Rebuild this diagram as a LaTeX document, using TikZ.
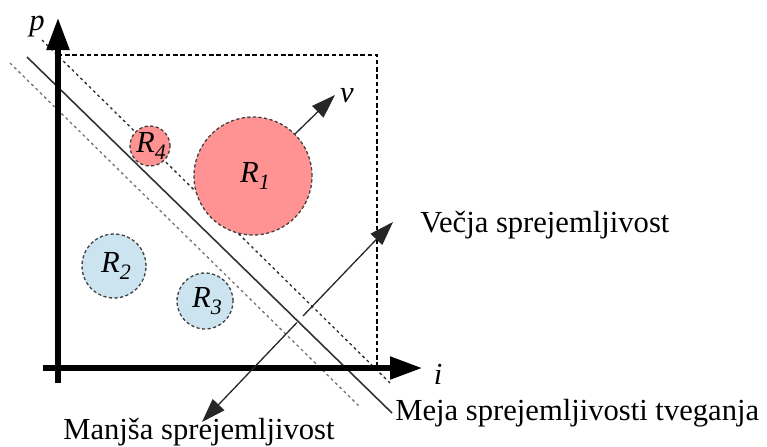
\documentclass[tikz,border=0pt]{standalone}
\usepackage{fontspec}
\setmainfont{Liberation Serif}
\usetikzlibrary{arrows.meta}
\definecolor{pinkfill}{HTML}{FF9393}
\definecolor{bluefill}{HTML}{CCE4F0}
\newcommand\reglabel[2]{\textit{#1}\raisebox{-0.45ex}{\fontsize{11}{12}\selectfont\textit{#2}}}
\begin{document}
\begin{tikzpicture}[x=0.5pt,y=-0.5pt,
  axis/.style={line width=2.6pt,-{Triangle[length=16pt,width=11pt]}},
  region/.style={circle,draw=black!75,dash pattern=on 1.6pt off 1.2pt,line width=0.65pt,inner sep=0pt},
  lbl/.style={font=\fontsize{15.3}{18}\selectfont,inner sep=0pt},
  frame/.style={black,line width=0.6pt,dash pattern=on 2.2pt off 1.4pt},
  bound/.style={black!80,line width=0.8pt},
  upper/.style={black!85,line width=0.65pt,dash pattern=on 1.4pt off 1.6pt},
  lower/.style={black!55,line width=0.65pt,dash pattern=on 1.4pt off 1.6pt},
  thinarrow/.style={black!85,line width=0.65pt,-{Triangle[length=12pt,width=8pt]}}]
\useasboundingbox (0,0) rectangle (767,446);

% coordinates
\coordinate (pbot) at (58,383);
\coordinate (ptop) at (58,18);
\coordinate (ileft) at (43,368);
\coordinate (iright) at (422,368);
\coordinate (fa) at (58,55);
\coordinate (fb) at (377,55);
\coordinate (fc) at (377,368);
\coordinate (bs) at (27,57);
\coordinate (be) at (392,413);
\coordinate (us) at (42,40);
\coordinate (ue) at (390,383);
\coordinate (ls) at (10,63);
\coordinate (le) at (360,407);
\coordinate (lotip) at (202,422);
\coordinate (hitip) at (393,222);
\coordinate (gapa) at (297,322.5);
\coordinate (gapb) at (303,316);
\coordinate (vtip) at (335,95);

% frame and parallel lines
\draw[frame] (fa) -- (fb) -- (fc);
\draw[lower] (ls) -- (le);
\draw[upper] (us) -- (ue);

% regions
\node[region,fill=pinkfill,minimum size=59pt] (R1) at (253,176) {};
\node[region,fill=pinkfill,minimum size=20pt] (R4) at (150,146) {};
\node[region,fill=bluefill,minimum size=32pt] (R2) at (114,266) {};
\node[region,fill=bluefill,minimum size=28pt] (R3) at (205,301) {};
\node[lbl] (R1t) at (255,176) {\reglabel{R}{1}};
\node[lbl] (R4t) at (151,146) {\reglabel{R}{4}};
\node[lbl] (R2t) at (116,266) {\reglabel{R}{2}};
\node[lbl] (R3t) at (207,301) {\reglabel{R}{3}};

\draw[bound] (bs) -- (be);

% axes
\draw[axis] (pbot) -- (ptop);
\draw[axis] (ileft) -- (iright);
\node[lbl] (plab) at (37,27) {\textit{p}};
\node[lbl] (ilab) at (438,374) {\textit{i}};

% v arrow
\draw[thinarrow] (R1.45) -- (vtip);
\node[lbl] (vlab) at (347,96) {\textit{v}};

% acceptance arrow
\draw[thinarrow] (gapa) -- (lotip);
\draw[thinarrow] (gapb) -- (hitip);

% texts
\node[lbl,anchor=base west] (vecja) at (420,232) {Večja sprejemljivost};
\node[lbl,anchor=base west] (meja) at (395,420) {Meja sprejemljivosti tveganja};
\node[lbl,anchor=base west] (manjsa) at (63,439) {Manjša sprejemljivost};
\end{tikzpicture}
\end{document}
